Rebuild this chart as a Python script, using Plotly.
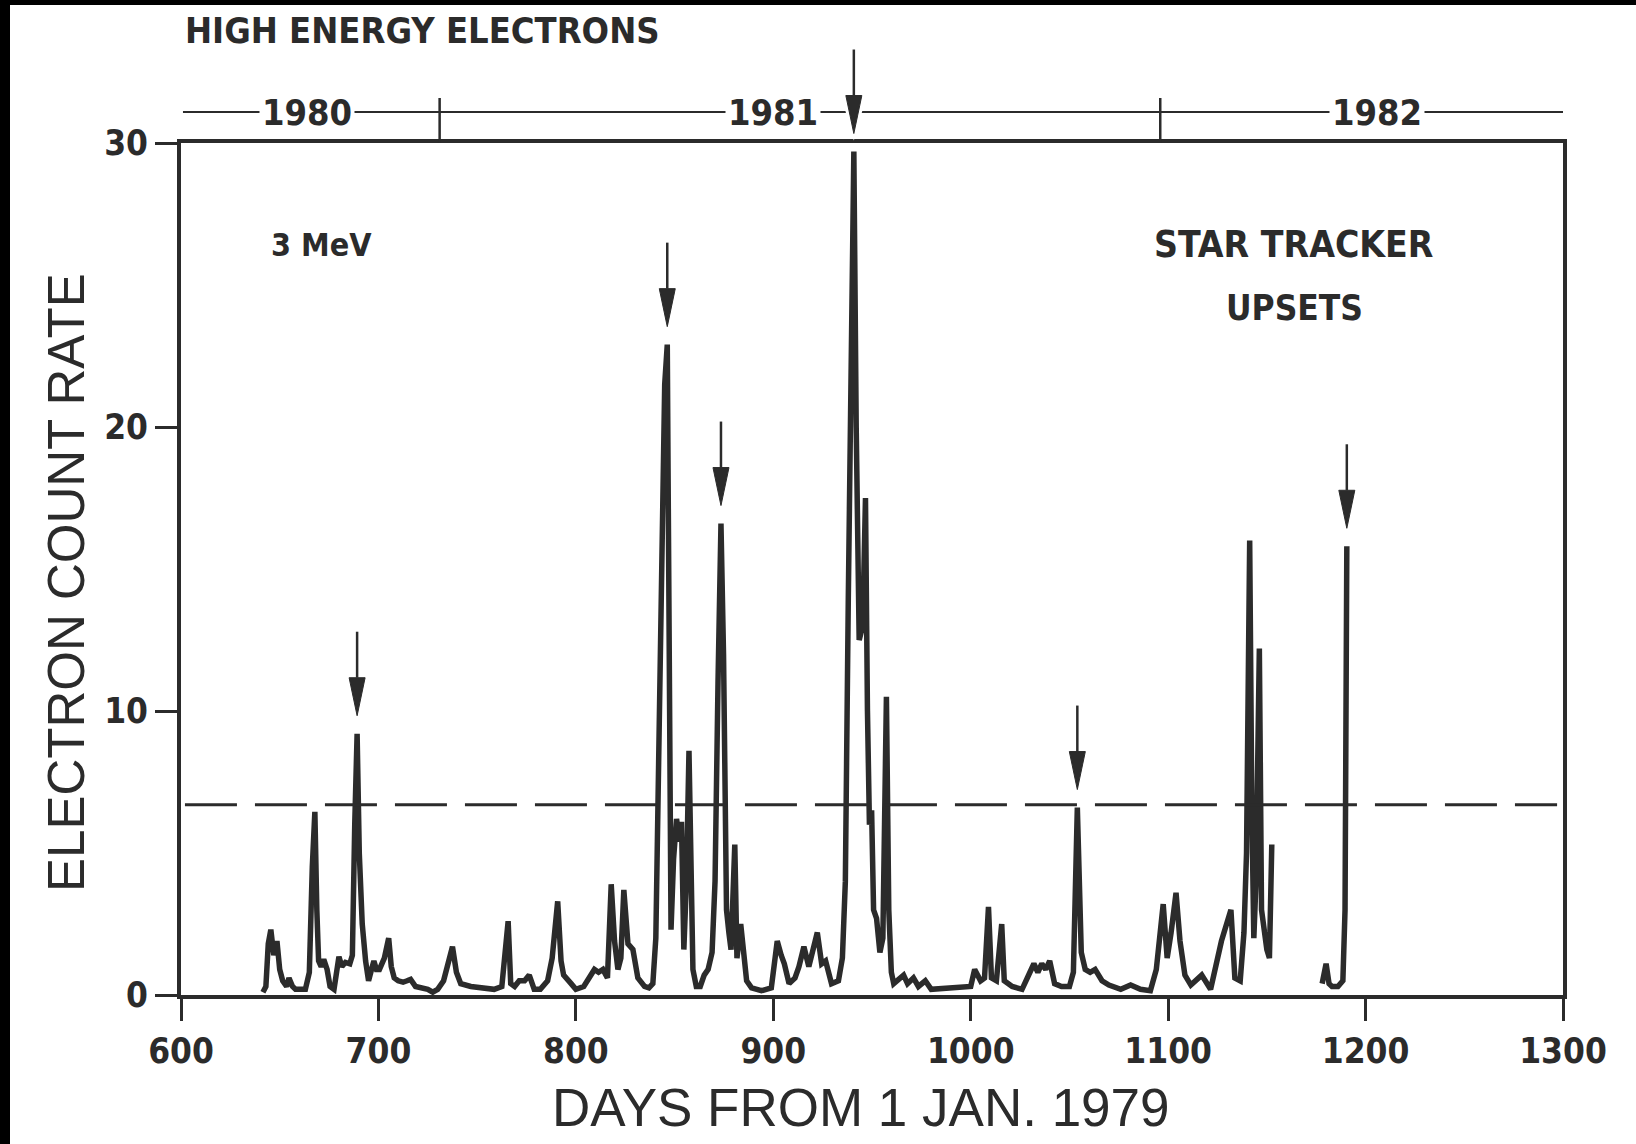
import plotly.graph_objects as go

# ---------------------------------------------------------------------------
# 3 MeV electron count rate versus days from 1 Jan 1979 (two data segments)
# ---------------------------------------------------------------------------
days_a = [
    641.5, 643, 644.2, 645.5, 647, 648.6, 650, 651.5, 653.5, 654.7, 656.5, 658,
    663, 665, 666.5, 667.8, 668.8, 669.7, 671, 672.3, 674, 675.5, 677.5, 679,
    680, 681.5, 683.3, 685.5, 686.8, 688, 689.2, 690.3, 691.8, 693.5, 695,
    696.5, 697.7, 699, 700.5, 703, 705.2, 706.5, 708, 710, 712.5, 714.5, 716.3,
    718.8, 722, 725, 727.5, 730, 733, 735.5, 737.5, 739.5, 741.7, 746.8, 751.9,
    758.6, 762.5, 764.5, 765.7, 767, 769, 771.3, 774, 776.4, 778.9, 782, 785.7,
    788, 790.8, 792.5, 793.8, 797.6, 800, 804, 807, 809.4, 811.5, 813.7, 816,
    817.9, 819.6, 821.3, 822.8, 824.3, 826.4, 828.9, 831.4, 834.8, 837, 839,
    840.5, 842, 843.5, 845, 846.3, 847.3, 848.2, 849.5, 851, 852.5, 853.5,
    854.7, 856, 857.3, 858.3, 859.3, 861, 863, 865, 867, 869, 870.5, 872,
    873.5, 874.8, 876.3, 877.5, 878.6, 880.5, 881.6, 883.5, 885, 886.5, 889,
    894, 899, 902, 904, 905.6, 908, 911, 913, 915.5, 918, 920, 922.3, 924.5,
    926.5, 929.5, 933, 935, 936.5, 938, 939.5, 940.8, 942, 943.5, 945.3, 946.7,
    947.7, 948.7, 949.8, 950.8, 952.3, 954, 955.5, 957.3, 958.5, 959.8, 961,
    963, 966, 968, 971, 973.5, 977, 980, 990, 1000, 1002, 1005, 1007, 1009,
    1010.5, 1013, 1015.7, 1017, 1021, 1026, 1030, 1032, 1034, 1036, 1038, 1040,
    1042.5, 1046, 1050, 1052, 1054, 1056, 1058, 1060.5, 1063, 1066.5, 1070,
    1076, 1081, 1086, 1091, 1094, 1097.5, 1099.5, 1101.5, 1104, 1106, 1108.5,
    1111.5, 1117, 1121.5, 1127, 1131.8, 1133.8, 1136.5, 1138.4, 1139.7, 1141.3,
    1142.4, 1143.4, 1144.5, 1146.2, 1147.3, 1148.5, 1150, 1151.3, 1152.5,
]
rate_a = [
    0.1, 0.3, 1.8, 2.3, 1.4, 1.9, 0.9, 0.5, 0.3, 0.6, 0.3, 0.2,
    0.2, 0.8, 4.5, 6.45, 3.0, 1.2, 1.0, 1.25, 0.9, 0.3, 0.2, 0.9,
    1.35, 1.0, 1.15, 1.1, 1.4, 6.0, 9.2, 5.0, 2.5, 1.2, 0.5,
    0.9, 1.2, 0.9, 0.9, 1.3, 2.0, 1.0, 0.6, 0.5, 0.45, 0.5, 0.55,
    0.3, 0.25, 0.2, 0.1, 0.2, 0.5, 1.2, 1.7, 0.8, 0.4, 0.3, 0.25,
    0.2, 0.3, 1.5, 2.6, 0.4, 0.3, 0.5, 0.5, 0.7, 0.2, 0.2, 0.5,
    1.3, 3.3, 1.2, 0.7, 0.4, 0.2, 0.3, 0.6, 0.9, 0.8, 0.9, 0.6,
    3.9, 1.9, 0.9, 1.3, 3.7, 1.8, 1.6, 0.6, 0.3, 0.25, 0.4,
    2.0, 8.0, 16.0, 21.5, 22.9, 14.0, 2.3, 4.8, 6.2, 5.4, 6.1,
    1.6, 4.0, 8.6, 3.0, 0.9, 0.3, 0.3, 0.7, 0.9, 1.5, 4.0, 11.0,
    16.6, 12.0, 3.0, 2.2, 1.6, 5.3, 1.3, 2.5, 1.3, 0.5, 0.25,
    0.15, 0.25, 1.9, 1.4, 1.1, 0.4, 0.6, 1.0, 1.7, 1.0, 1.5, 2.2, 1.1,
    1.2, 0.4, 0.5, 1.3, 4.0, 14.0, 25.0, 29.7, 20.0, 12.5, 13.0, 17.5,
    10.0, 6.0, 6.5, 3.0, 2.7, 1.5, 2.0, 10.5, 3.0, 0.8, 0.4,
    0.5, 0.7, 0.4, 0.6, 0.3, 0.5, 0.2, 0.25, 0.3, 0.9, 0.5, 0.6, 3.1,
    0.6, 0.5, 2.5, 0.5, 0.3, 0.2, 0.8, 1.1, 0.8, 1.1, 0.9, 1.2,
    0.4, 0.3, 0.3, 0.8, 6.6, 1.5, 0.9, 0.8, 0.9, 0.5, 0.35,
    0.2, 0.35, 0.2, 0.15, 0.9, 3.2, 1.3, 2.2, 3.6, 1.9, 0.7,
    0.35, 0.7, 0.2, 1.9, 3.0, 0.6, 0.5, 2.2, 5.0, 16.0,
    6.5, 2.0, 4.0, 12.2, 3.0, 2.2, 1.6, 1.3, 5.3,
]
days_b = [1178, 1180, 1181.5, 1183, 1186, 1188.5, 1189.6, 1190.5]
rate_b = [0.4, 1.1, 0.4, 0.3, 0.3, 0.5, 3.0, 15.8]

# star tracker upsets (days from 1 Jan 1979)
upset_days = [689.2, 846.3, 873.5, 940.8, 1054, 1190.5]

# upset threshold level of the count rate
threshold = 6.7

x_ticks = [600, 700, 800, 900, 1000, 1100, 1200, 1300]
y_ticks = [0, 10, 20, 30]
x_range = [600, 1300]
y_range = [0, 30]

# calendar bar: 1 Jan 1981 and 1 Jan 1982 as days from 1 Jan 1979
year_bounds = [731, 1096]
year_labels = ["1980", "1981", "1982"]
year_label_days = [664, 900, 1206]

# ---------------------------------------------------------------------------
W, H = 1636, 1144
M = dict(l=181, r=73, t=143, b=149)
PLOT_W = W - M["l"] - M["r"]
PLOT_H = H - M["t"] - M["b"]
INK = "#2b2b2b"
NARROW = "Liberation Sans Narrow, Arial Narrow, DejaVu Sans Condensed, sans-serif"
PLAIN = "Liberation Sans, Arial, Helvetica, sans-serif"


def px_y(px):
    """Vertical pixel distance expressed in paper units."""
    return px / PLOT_H


def px_x(px):
    """Horizontal pixel distance expressed in paper units."""
    return px / PLOT_W


def to_paper(v):
    return (v - y_range[0]) / (y_range[1] - y_range[0])


days_per_px = (x_range[1] - x_range[0]) / PLOT_W

fig = go.Figure()
fig.add_trace(go.Scatter(
    x=days_a + [None] + days_b,
    y=rate_a + [None] + rate_b,
    mode="lines",
    line=dict(color=INK, width=5.5),
    connectgaps=False,
    showlegend=False,
    hoverinfo="skip",
))

shapes = []

# dark mount edges along the top and left of the sheet
shapes.append(dict(
    type="rect", xref="paper", yref="paper", layer="below",
    x0=-px_x(M["l"]), x1=1 + px_x(M["r"]),
    y0=1 + px_y(M["t"] - 5), y1=1 + px_y(M["t"]),
    fillcolor="black", line=dict(width=0),
))
shapes.append(dict(
    type="rect", xref="paper", yref="paper", layer="below",
    x0=-px_x(M["l"]), x1=-px_x(M["l"] - 10),
    y0=-px_y(M["b"]), y1=1 + px_y(M["t"]),
    fillcolor="black", line=dict(width=0),
))

# dashed threshold line
shapes.append(dict(
    type="line", xref="x", yref="y",
    x0=x_range[0] + 2, x1=x_range[1] - 3, y0=threshold, y1=threshold,
    line=dict(color=INK, width=3, dash="52px,18px"),
))

# calendar bar above the plot
bar_y = 1 + px_y(31)
shapes.append(dict(
    type="line", xref="x", yref="paper",
    x0=x_range[0] + 1, x1=x_range[1] + 0.5, y0=bar_y, y1=bar_y,
    line=dict(color=INK, width=2),
))
for d in year_bounds:
    shapes.append(dict(
        type="line", xref="x", yref="paper",
        x0=d, x1=d, y0=1, y1=1 + px_y(45),
        line=dict(color=INK, width=2.5),
    ))

# arrows marking star tracker upsets
all_days = days_a + days_b
all_rates = rate_a + rate_b
GAP, HEAD, SHAFT, HALF_W = 18, 38, 46, 8
for d in upset_days:
    peak = max(r for x, r in zip(all_days, all_rates) if abs(x - d) <= 3)
    tip = to_paper(peak) + px_y(GAP)
    top = tip + px_y(HEAD)
    hw = HALF_W * days_per_px
    halo = 6 * days_per_px
    shapes.append(dict(
        type="path", xref="x", yref="paper",
        path=f"M {d - hw - halo},{top + px_y(4)} L {d + hw + halo},{top + px_y(4)} "
             f"L {d},{tip - px_y(7)} Z",
        fillcolor="white", line=dict(width=0),
    ))
    shapes.append(dict(
        type="line", xref="x", yref="paper",
        x0=d, x1=d, y0=top, y1=top + px_y(SHAFT),
        line=dict(color=INK, width=2.5),
    ))
    shapes.append(dict(
        type="path", xref="x", yref="paper",
        path=f"M {d - hw},{top} L {d + hw},{top} L {d},{tip} Z",
        fillcolor=INK, line=dict(color=INK, width=1),
    ))

annotations = []
for lbl, d in zip(year_labels, year_label_days):
    annotations.append(dict(
        x=d, y=bar_y, xref="x", yref="paper", text=lbl, showarrow=False,
        xanchor="center", yanchor="middle", bgcolor="white", borderpad=2,
        font=dict(family=NARROW, size=36, color=INK, weight="bold"),
    ))

annotations += [
    dict(x=0.0015, y=1 + px_y(112), xref="paper", yref="paper",
         text="HIGH ENERGY ELECTRONS", showarrow=False,
         xanchor="left", yanchor="middle",
         font=dict(family=NARROW, size=36, color=INK, weight="bold")),
    dict(x=px_x(88), y=px_y(750), xref="paper", yref="paper",
         text="3 MeV", showarrow=False, xanchor="left", yanchor="middle",
         font=dict(family=NARROW, size=32, color=INK, weight="bold")),
    dict(x=px_x(1113), y=px_y(751), xref="paper", yref="paper",
         text="STAR TRACKER", showarrow=False, xanchor="center", yanchor="middle",
         font=dict(family=NARROW, size=37, color=INK, weight="bold")),
    dict(x=px_x(1113), y=px_y(687), xref="paper", yref="paper",
         text="UPSETS", showarrow=False, xanchor="center", yanchor="middle",
         font=dict(family=NARROW, size=35, color=INK, weight="bold")),
    dict(x=0.492, y=-px_y(112), xref="paper", yref="paper",
         text="DAYS FROM 1 JAN. 1979", showarrow=False,
         xanchor="center", yanchor="middle",
         font=dict(family=PLAIN, size=53, color=INK)),
    dict(x=-px_x(115), y=px_y(412), xref="paper", yref="paper",
         text="ELECTRON COUNT RATE", showarrow=False, textangle=-90,
         xanchor="center", yanchor="middle",
         font=dict(family=PLAIN, size=51, color=INK)),
]

axis_common = dict(
    showline=True, linewidth=4, linecolor=INK, mirror=True,
    ticks="outside", ticklen=22, tickwidth=3, tickcolor=INK,
    showgrid=False, zeroline=False,
    tickfont=dict(family=NARROW, size=35, color=INK, weight="bold"),
)

fig.update_layout(
    width=W, height=H, margin=M,
    paper_bgcolor="white", plot_bgcolor="white",
    xaxis=dict(range=x_range, tickvals=x_ticks, **axis_common),
    yaxis=dict(range=y_range, tickvals=y_ticks, **axis_common),
    shapes=shapes, annotations=annotations, showlegend=False,
)

fig.write_html("out.html")
